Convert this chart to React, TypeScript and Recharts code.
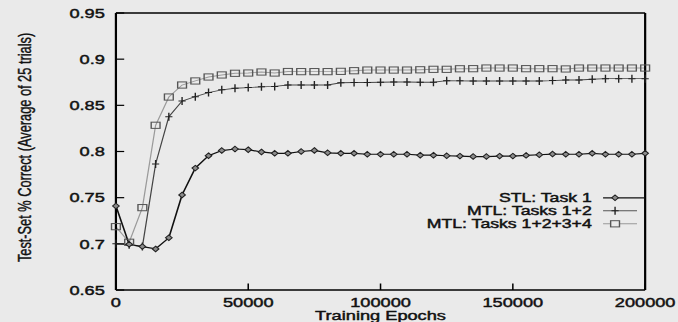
import React from 'react';
import { LineChart, Line, XAxis, YAxis, Legend } from 'recharts';

const epochs = [
  0, 5000, 10000, 15000, 20000, 25000, 30000, 35000, 40000, 45000,
  50000, 55000, 60000, 65000, 70000, 75000, 80000, 85000, 90000, 95000,
  100000, 105000, 110000, 115000, 120000, 125000, 130000, 135000, 140000, 145000,
  150000, 155000, 160000, 165000, 170000, 175000, 180000, 185000, 190000, 195000,
  200000,
];

const stlTask1 = [
  0.741, 0.6995, 0.697, 0.6945, 0.7065, 0.753, 0.782, 0.7955, 0.801, 0.8027,
  0.802, 0.7995, 0.798, 0.798, 0.8, 0.8012, 0.7986, 0.798, 0.798, 0.797,
  0.797, 0.797, 0.797, 0.796, 0.796, 0.7954, 0.795, 0.7945, 0.7945, 0.795,
  0.795, 0.7958, 0.7965, 0.7972, 0.797, 0.797, 0.798, 0.797, 0.797, 0.797,
  0.798,
];

const mtlTasks12 = [
  0.7, 0.699, 0.697, 0.7865, 0.8377, 0.8547, 0.8594, 0.8638, 0.8668, 0.8685,
  0.8692, 0.87, 0.8705, 0.872, 0.872, 0.872, 0.872, 0.8745, 0.8748, 0.8748,
  0.875, 0.8753, 0.8753, 0.875, 0.875, 0.8767, 0.8765, 0.8764, 0.8764, 0.8764,
  0.8764, 0.8764, 0.8764, 0.8768, 0.8775, 0.8775, 0.8782, 0.8789, 0.8789, 0.8789,
  0.8789,
];

const mtlTasks1234 = [
  0.7186, 0.7017, 0.7392, 0.8284, 0.859, 0.872, 0.8764, 0.8807, 0.8829, 0.8847,
  0.885, 0.8861, 0.885, 0.8866, 0.8865, 0.8865, 0.8865, 0.8868, 0.8875, 0.8882,
  0.8882, 0.8882, 0.8882, 0.8885, 0.889, 0.889, 0.8896, 0.8897, 0.8904, 0.8904,
  0.8904, 0.8897, 0.8897, 0.8897, 0.8894, 0.8904, 0.8904, 0.8904, 0.8904, 0.8904,
  0.8904,
];

const xTicks = [0, 50000, 100000, 150000, 200000];
const xTickLabels = ['0', '50000', '100000', '150000', '200000'];
const yTicks = [0.65, 0.7, 0.75, 0.8, 0.85, 0.9, 0.95];
const yTickLabels = ['0.65', '0.7', '0.75', '0.8', '0.85', '0.9', '0.95'];
const seriesNames = ['STL: Task 1', 'MTL: Tasks 1+2', 'MTL: Tasks 1+2+3+4'];
const xLabel = 'Training Epochs';
const yLabel = 'Test-Set % Correct (Average of 25 trials)';

const data = epochs.map((e, i) => ({
  epoch: e,
  stl: stlTask1[i],
  mtl2: mtlTasks12[i],
  mtl4: mtlTasks1234[i],
}));

const FONT = "'Liberation Sans', Arial, Helvetica, sans-serif";
const FS = 13.2;
const SX = 1.38;
const W = 491;
const H = 322;
const BG = '#eaeaea';
const TXT = '#111';
const TXT_STROKE = 0.45;

const diamondPath = (cx: number, cy: number) =>
  `M${cx},${cy - 2.8} L${cx + 2.4},${cy} L${cx},${cy + 2.8} L${cx - 2.4},${cy} Z`;

const DiamondDot = (props: any) => {
  const { cx, cy } = props;
  if (cx == null || cy == null) return null;
  return <path d={diamondPath(cx, cy)} fill="#8c8c8c" stroke="#222" strokeWidth={0.9} />;
};

const PlusDot = (props: any) => {
  const { cx, cy } = props;
  if (cx == null || cy == null) return null;
  return (
    <path
      d={`M${cx - 2.6},${cy} H${cx + 2.6} M${cx},${cy - 4} V${cy + 4}`}
      stroke="#222"
      strokeWidth={1}
      fill="none"
    />
  );
};

const SquareDot = (props: any) => {
  const { cx, cy } = props;
  if (cx == null || cy == null) return null;
  return (
    <rect x={cx - 3.2} y={cy - 3.1} width={6.4} height={6.2} fill="none" stroke="#555" strokeWidth={1} />
  );
};

const textStyle = {
  fontFamily: FONT,
  fill: TXT,
  stroke: TXT,
  strokeWidth: TXT_STROKE,
};

const XTick = (props: any) => {
  const { x, y, payload } = props;
  const idx = xTicks.indexOf(payload.value);
  return (
    <text x={x} y={y} dy="0.71em" textAnchor="middle" fontSize={FS} {...textStyle}>
      {idx >= 0 ? xTickLabels[idx] : String(payload.value)}
    </text>
  );
};

const YTick = (props: any) => {
  const { x, y, payload } = props;
  const idx = yTicks.findIndex((t) => Math.abs(t - payload.value) < 1e-9);
  return (
    <text x={x} y={y} dy="0.355em" textAnchor="end" fontSize={FS} {...textStyle}>
      {idx >= 0 ? yTickLabels[idx] : String(payload.value)}
    </text>
  );
};

const XLabel = (props: any) => {
  const vb = props.viewBox || { x: 0, y: 0, width: 0, height: 0 };
  return (
    <text
      x={vb.x + vb.width / 2}
      y={vb.y + vb.height - 2}
      textAnchor="middle"
      fontSize={FS}
      {...textStyle}
    >
      {xLabel}
    </text>
  );
};

const YLabel = (props: any) => {
  const vb = props.viewBox || { x: 0, y: 0, width: 0, height: 0 };
  const cx = vb.x + 18;
  const cy = vb.y + vb.height / 2 - 4;
  return (
    <text
      x={cx}
      y={cy}
      transform={`rotate(-90 ${cx} ${cy})`}
      textAnchor="middle"
      dominantBaseline="central"
      fontSize={12.8}
      {...textStyle}
      strokeWidth={0.3}
    >
      {yLabel}
    </text>
  );
};

const LegendContent = () => {
  const textRight = 428.8;
  const lineStart = 437;
  const lineEnd = 461.6;
  const markX = 445.7;
  const baselines = [202.3, 215.3, 228.3];
  return (
    <svg width={W} height={H} style={{ display: 'block', overflow: 'visible' }}>
      {seriesNames.map((name, i) => {
        const by = baselines[i];
        const ly = by - 4.5;
        return (
          <g key={name}>
            <text x={textRight} y={by} textAnchor="end" fontSize={12.8} {...textStyle}>
              {name}
            </text>
            {i === 0 && (
              <>
                <line x1={lineStart} x2={467.5} y1={ly} y2={ly} stroke="#111" strokeWidth={1.2} />
                <path d={diamondPath(markX, ly)} fill="#8c8c8c" stroke="#222" strokeWidth={0.9} />
              </>
            )}
            {i === 1 && (
              <>
                <line x1={lineStart} x2={lineEnd} y1={ly} y2={ly} stroke="#555" strokeWidth={0.9} />
                <path
                  d={`M${markX - 2.6},${ly} H${markX + 2.6} M${markX},${ly - 4} V${ly + 4}`}
                  stroke="#222"
                  strokeWidth={1}
                />
              </>
            )}
            {i === 2 && (
              <>
                <line x1={lineStart} x2={lineEnd} y1={ly} y2={ly} stroke="#999" strokeWidth={0.9} />
                <rect x={markX - 3.2} y={ly - 3.1} width={6.4} height={6.2} fill={BG} stroke="#555" strokeWidth={1} />
              </>
            )}
          </g>
        );
      })}
    </svg>
  );
};

export default function App() {
  return (
    <div style={{ position: 'absolute', left: 0, top: 0, width: 678, height: 322, background: BG, overflow: 'hidden' }}>
      <div style={{ width: W, height: H, transform: `scale(${SX}, 1)`, transformOrigin: '0 0' }}>
        <LineChart
          width={W}
          height={H}
          data={data}
          margin={{ top: 12, right: 22.5, bottom: 0, left: 0 }}
        >
          <XAxis
            xAxisId="b"
            dataKey="epoch"
            type="number"
            domain={[0, 200000]}
            ticks={xTicks}
            interval={0}
            orientation="bottom"
            height={32}
            tickSize={-6.5}
            tickMargin={14.5}
            axisLine={{ stroke: '#000', strokeWidth: 1.6 }}
            tickLine={{ stroke: '#000', strokeWidth: 1.1 }}
            tick={<XTick />}
            label={{ content: <XLabel /> }}
          />
          <XAxis
            xAxisId="t"
            dataKey="epoch"
            type="number"
            domain={[0, 200000]}
            ticks={xTicks}
            interval={0}
            orientation="top"
            height={1}
            tickSize={-6.5}
            axisLine={{ stroke: '#000', strokeWidth: 1.6 }}
            tickLine={{ stroke: '#000', strokeWidth: 1.1 }}
            tick={false}
          />
          <YAxis
            yAxisId="l"
            type="number"
            domain={[0.65, 0.95]}
            ticks={yTicks}
            interval={0}
            orientation="left"
            width={84}
            tickSize={-6}
            tickMargin={14}
            axisLine={{ stroke: '#000', strokeWidth: 1.6 }}
            tickLine={{ stroke: '#000', strokeWidth: 1.2 }}
            tick={<YTick />}
            label={{ content: <YLabel /> }}
          />
          <YAxis
            yAxisId="r"
            type="number"
            domain={[0.65, 0.95]}
            ticks={yTicks}
            interval={0}
            orientation="right"
            width={1}
            tickSize={-6}
            axisLine={{ stroke: '#000', strokeWidth: 1.6 }}
            tickLine={{ stroke: '#000', strokeWidth: 1.2 }}
            tick={false}
          />
          <Legend
            layout="vertical"
            align="center"
            verticalAlign="middle"
            wrapperStyle={{ left: 0, top: 0, width: W, height: H, pointerEvents: 'none' }}
            content={<LegendContent />}
          />
          <Line
            xAxisId="b"
            yAxisId="l"
            dataKey="mtl4"
            name={seriesNames[2]}
            stroke="#9a9a9a"
            strokeWidth={0.9}
            dot={<SquareDot />}
            isAnimationActive={false}
            type="linear"
          />
          <Line
            xAxisId="b"
            yAxisId="l"
            dataKey="mtl2"
            name={seriesNames[1]}
            stroke="#444"
            strokeWidth={0.9}
            dot={<PlusDot />}
            isAnimationActive={false}
            type="linear"
          />
          <Line
            xAxisId="b"
            yAxisId="l"
            dataKey="stl"
            name={seriesNames[0]}
            stroke="#111"
            strokeWidth={1.2}
            dot={<DiamondDot />}
            isAnimationActive={false}
            type="linear"
          />
        </LineChart>
      </div>
    </div>
  );
}
